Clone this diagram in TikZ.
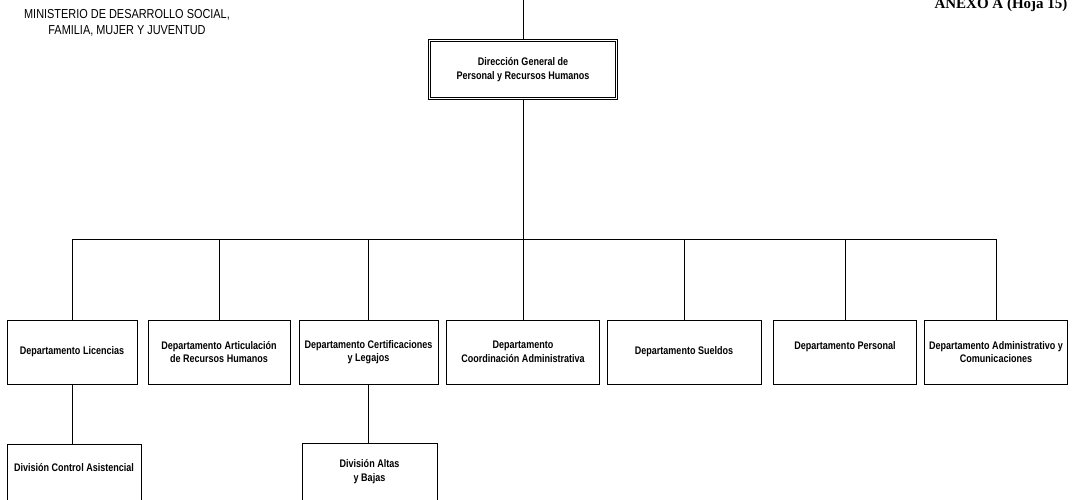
\documentclass[tikz,border=0pt]{standalone}
\usepackage{fontspec}
\setmainfont{Liberation Sans}
\newfontfamily\boxfont[FakeStretch=0.82]{Liberation Sans}
\newfontfamily\titlefont[FakeStretch=0.84]{Liberation Sans}
\newfontfamily\anexofont{Liberation Serif}
\begin{document}
\begin{tikzpicture}[x=1pt,y=-1pt,
  box/.style={draw, line width=0.9pt, align=center, inner sep=2pt,
    font=\boxfont\bfseries\fontsize{11}{13.5}\selectfont},
  dept/.style={box, minimum height=64pt},
  topbox/.style={box, double, double distance=1.6pt, line width=0.8pt},
  conn/.style={line width=0.9pt}]
\useasboundingbox (0,0) rectangle (1073,500);

% header texts
\node[align=center, font=\titlefont\fontsize{13}{16}\selectfont] (min) at (127,23)
  {MINISTERIO DE DESARROLLO SOCIAL,\\FAMILIA, MUJER Y JUVENTUD};
\node[anchor=base east, font=\anexofont\bfseries\fontsize{15}{17}\selectfont] (anexo) at (1071,9)
  {ANEXO A (Hoja 15)};

% top box
\node[topbox, minimum width=186.8pt, minimum height=57.8pt] (dg) at (523,69.5)
  {Dirección General de\\Personal y Recursos Humanos};

% departments
\node[dept, minimum width=130pt] (d1) at (72,352) {Departamento Licencias};
\node[dept, minimum width=142pt] (d2) at (219,352) {Departamento Articulación\\de Recursos Humanos};
\node[dept, minimum width=139pt] (d3) at (368.5,352) {Departamento Certificaciones\\y Legajos};
\node[dept, minimum width=153pt] (d4) at (523,352) {Departamento\\Coordinación Administrativa};
\node[dept, minimum width=154pt] (d5) at (684,352) {Departamento Sueldos};
\node[dept, minimum width=143pt] (d6) at (845,352) {Departamento Personal\\\mbox{}};
\node[dept, minimum width=143pt] (d7) at (996,352) {Departamento Administrativo y\\Comunicaciones};

% divisions
\node[box, anchor=north, minimum width=134pt, inner ysep=19pt] (c1) at (74,444)
  {División Control Asistencial\\[40pt]\mbox{}};
\node[box, anchor=north, minimum width=135pt, inner ysep=16pt] (c3) at (369.5,443)
  {División Altas\\y Bajas\\[30pt]\mbox{}};

% connectors
\coordinate (topend) at (523,0);
\coordinate (bar) at (0,239);
\draw[conn] (topend) -- (dg.north);
\draw[conn] (dg.south) -- (dg.south |- bar);
\draw[conn] (d1.north) -- (d1.north |- bar) -- (d7.north |- bar) -- (d7.north);
\foreach \d in {d2,d3,d4,d5,d6}
  \draw[conn] (\d.north) -- (\d.north |- bar);
\draw[conn] (d1.south) -- (d1.south |- c1.north);
\draw[conn] (d3.south) -- (d3.south |- c3.north);
\end{tikzpicture}
\end{document}
